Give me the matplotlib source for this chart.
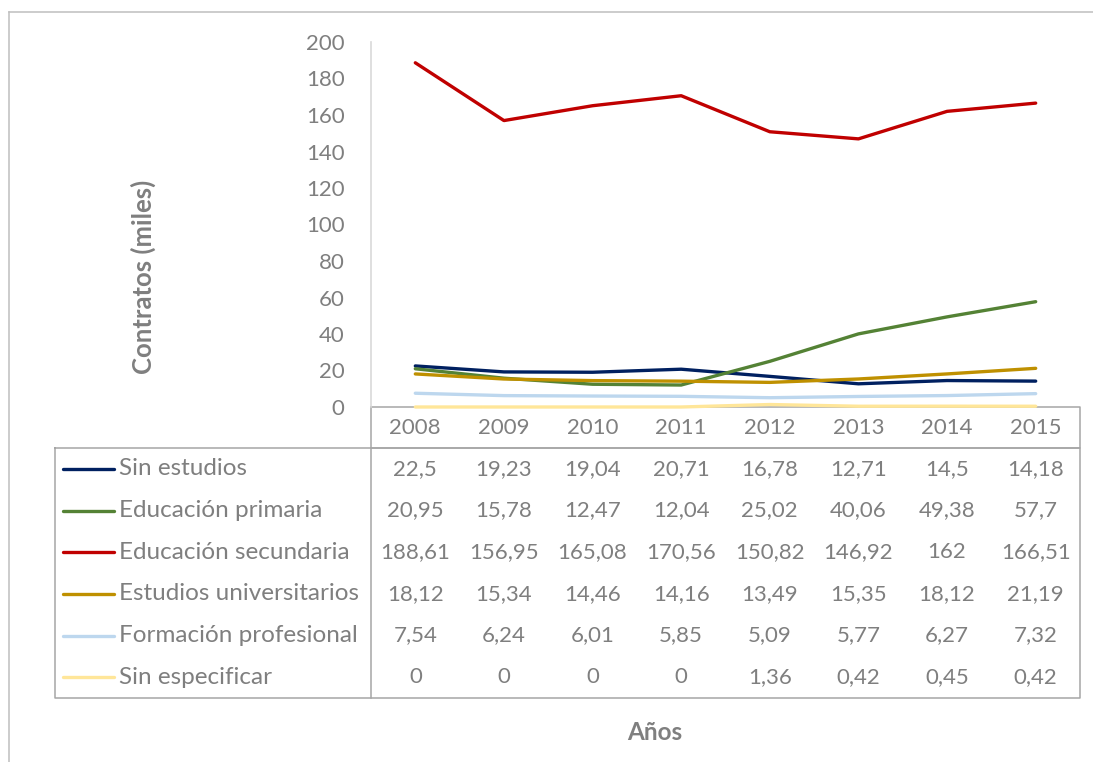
import matplotlib.pyplot as plt
import numpy as np

plt.rcParams['font.family'] = ['Lato', 'DejaVu Sans']

years = ["2008", "2009", "2010", "2011", "2012", "2013", "2014", "2015"]
series_names = ["Sin estudios", "Educación primaria", "Educación secundaria",
                "Estudios universitarios", "Formación profesional", "Sin especificar"]
sin_estudios = [22.5, 19.23, 19.04, 20.71, 16.78, 12.71, 14.5, 14.18]
primaria = [20.95, 15.78, 12.47, 12.04, 25.02, 40.06, 49.38, 57.7]
secundaria = [188.61, 156.95, 165.08, 170.56, 150.82, 146.92, 162, 166.51]
universitarios = [18.12, 15.34, 14.46, 14.16, 13.49, 15.35, 18.12, 21.19]
formacion = [7.54, 6.24, 6.01, 5.85, 5.09, 5.77, 6.27, 7.32]
sin_especificar = [0, 0, 0, 0, 1.36, 0.42, 0.45, 0.42]
colors = ["#002060", "#548235", "#c00000", "#bf9000", "#bdd7ee", "#ffe699"]

all_series = [sin_estudios, primaria, secundaria, universitarios, formacion, sin_especificar]

W, H = 1093, 762
grey = "#7f7f7f"
border = "#a6a6a6"
fs = 16        # numbers
fs_lab = 17.5  # series names / titles

fig = plt.figure(figsize=(W / 100, H / 100), dpi=100)

# overlay axes in pixel units for the data table and frame
tab = fig.add_axes([0, 0, 1, 1])
tab.set_xlim(0, W)
tab.set_ylim(H, 0)
tab.axis('off')

# plot area
x0, x1, ytop, ybot = 371, 1080, 42, 407
ax = fig.add_axes([x0 / W, 1 - ybot / H, (x1 - x0) / W, (ybot - ytop) / H])
x = np.arange(len(years)) + 0.5
for vals, c in zip(all_series, colors):
    ax.plot(x, vals, color=c, lw=2.4, solid_capstyle='round', clip_on=False)
ax.set_xlim(0, len(years))
ax.set_ylim(0, 200)
ax.set_yticks(range(0, 201, 20))
ax.set_xticks([])
for s in ['top', 'right', 'bottom']:
    ax.spines[s].set_visible(False)
ax.spines['left'].set_color('#d9d9d9')
ax.spines['left'].set_linewidth(1.2)
ax.tick_params(axis='y', length=0, pad=19, labelsize=fs, labelcolor=grey)
ax.patch.set_alpha(0)

fig.text(143 / W, 1 - 277 / H, "Contratos (miles)", rotation=90, ha='center',
         va='center', fontsize=18.5, fontweight='bold', color=grey)
fig.text(655 / W, 1 - 732 / H, "Años", ha='center', va='center',
         fontsize=fs_lab, fontweight='bold', color=grey)

# table
lw = 1.1
tab.plot([9, W], [12, 12], color='#bfbfbf', lw=lw)
tab.plot([9, 9], [12, H], color='#bfbfbf', lw=lw)
tab.plot([x0, x1, x1, x0, x0], [ybot, ybot, 448, 448, ybot], color=border, lw=lw)
tab.plot([55, x1, x1, 55, 55], [448, 448, 698, 698, 448], color=border, lw=lw)
tab.plot([x0, x0], [448, 698], color=border, lw=lw)

colw = (x1 - x0) / len(years)
for i, yr in enumerate(years):
    tab.text(x0 + colw * (i + 0.5), 428, yr, ha='center', va='center',
             fontsize=fs, color=grey)

row_h = (698 - 448) / len(series_names)
for r, (name, vals, c) in enumerate(zip(series_names, all_series, colors)):
    yc = 448 + row_h * (r + 0.5)
    tab.plot([63, 114], [yc, yc], color=c, lw=2.4, solid_capstyle='round')
    tab.text(119, yc, name, ha='left', va='center', fontsize=fs_lab, color=grey)
    for i, v in enumerate(vals):
        tab.text(x0 + colw * (i + 0.5), yc, f"{v:g}".replace('.', ','),
                 ha='center', va='center', fontsize=fs, color=grey)

fig.savefig("out.png", dpi=100)
